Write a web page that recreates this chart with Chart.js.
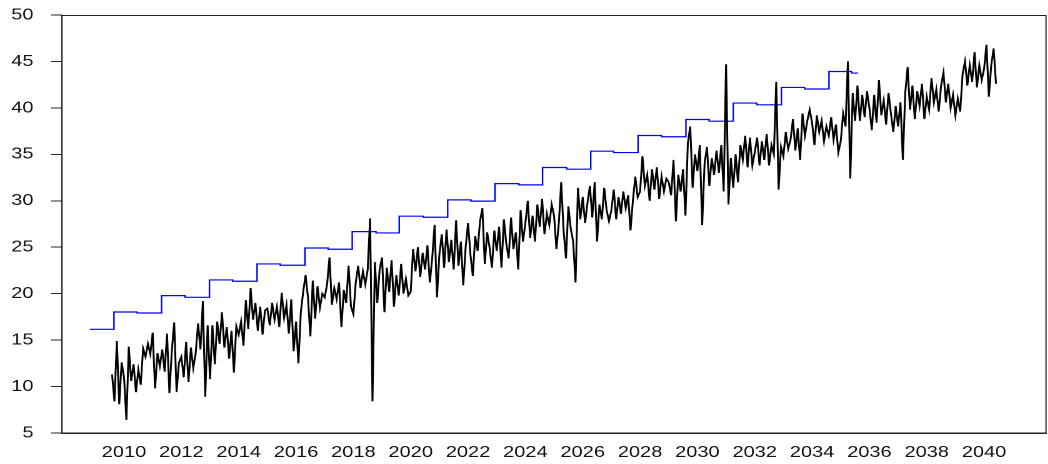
<!DOCTYPE html>
<html>
<head>
<meta charset="utf-8">
<script src="https://cdn.jsdelivr.net/npm/chart.js@4"></script>
<style>
  html, body { margin: 0; padding: 0; background: #fff; overflow: hidden; }
  /* the reference is drawn wider than tall, so the chart is laid out narrow and stretched */
  #wrap { width: 838.4px; height: 464px; transform: scaleX(1.25); transform-origin: 0 0; }
</style>
</head>
<body>
<div id="wrap"><canvas id="chart"></canvas></div>
<script>
// monthly series, first value is Aug 2009
const seriesStartYear = 2009;
const seriesStartMonth = 7;
const seriesValues = [
  11.3, 8.4, 14.9, 8.1, 12.6,
  11.0, 6.4, 14.3, 10.6, 12.4, 9.4, 11.8, 10.2, 14.1, 13.2, 14.6, 13.5,
  15.8, 9.8, 13.6, 12.2, 14.0, 11.6, 15.7, 9.3, 13.8, 16.9, 9.4, 12.6,
  13.2, 11.0, 14.8, 10.5, 14.2, 12.0, 13.6, 16.8, 14.0, 19.2, 8.9, 16.6,
  10.8, 16.6, 12.4, 17.0, 14.6, 18.0, 14.2, 16.4, 13.0, 16.0, 11.5, 16.5,
  15.6, 17.0, 14.4, 19.3, 16.2, 20.6, 17.2, 19.0, 16.0, 18.6, 15.6, 18.2,
  18.4, 16.6, 19.0, 17.2, 18.6, 16.4, 20.1, 17.4, 18.8, 15.7, 19.4, 13.8,
  17.0, 12.5, 18.0, 20.2, 22.0, 19.6, 15.4, 21.4, 17.3, 20.8, 18.5, 20.0,
  19.6, 21.0, 23.9, 18.8, 20.6, 19.4, 21.2, 16.4, 20.4, 19.0, 23.0, 18.6,
  17.8, 21.2, 23.0, 20.6, 22.4, 21.0, 22.6, 28.1, 8.4, 23.4, 19.0, 22.6,
  23.9, 18.0, 22.8, 20.2, 23.6, 18.6, 22.0, 19.8, 23.2, 20.0, 21.6, 19.8,
  20.2, 24.8, 22.4, 25.0, 21.8, 24.4, 22.6, 25.2, 21.2, 23.8, 27.4, 19.6,
  24.2, 26.4, 22.8, 26.9, 23.4, 25.8, 22.6, 27.9, 23.0, 25.6, 20.9, 25.0,
  27.6, 24.2, 21.9, 26.2, 24.6, 27.8, 29.2, 23.2, 26.6, 25.0, 22.8, 26.8,
  24.6, 27.2, 22.8, 28.0, 25.4, 23.8, 28.2, 24.8, 26.6, 22.6, 29.0, 25.6,
  27.6, 30.0, 26.0, 28.4, 25.6, 29.6, 27.2, 30.2, 26.4, 28.6, 27.4, 29.6,
  28.4, 24.8, 27.6, 32.0, 26.8, 23.8, 29.4, 27.0, 25.6, 21.2, 31.4, 28.0,
  30.4, 27.6, 29.8, 31.6, 28.2, 32.0, 25.6, 29.6, 28.0, 31.4, 29.0, 27.8,
  29.0, 31.2, 28.0, 30.4, 28.6, 31.0, 29.2, 30.6, 26.8, 30.0, 32.6, 30.4,
  31.0, 34.8, 31.6, 32.8, 30.0, 33.4, 31.2, 33.6, 30.2, 32.6, 31.0, 32.4,
  32.0, 30.6, 34.4, 27.8, 32.8, 31.0, 33.4, 28.4, 36.2, 38.0, 31.4, 35.0,
  33.2, 36.0, 27.4, 34.0, 35.8, 31.6, 34.6, 32.8, 35.4, 33.0, 36.0, 31.0,
  44.7, 29.6, 34.6, 31.4, 35.0, 32.0, 36.0, 34.4, 37.0, 33.6, 36.8, 33.8,
  35.2, 36.8, 33.8, 36.4, 34.4, 37.2, 33.8, 36.0, 35.0, 42.8, 31.2, 35.8,
  34.8, 37.4, 35.6, 36.6, 38.8, 35.4, 37.8, 34.4, 39.4, 37.0, 38.6, 39.8,
  38.4, 36.0, 39.2, 37.4, 38.6, 36.4, 38.0, 37.0, 39.0, 36.6, 38.2, 35.2,
  36.4, 39.4, 38.0, 45.0, 32.4, 41.6, 38.6, 42.4, 38.6, 41.4, 39.0, 41.8,
  40.0, 37.6, 41.4, 38.4, 43.0, 39.2, 40.8, 38.2, 41.6, 39.4, 37.4, 40.2,
  38.0, 40.6, 34.4, 41.6, 44.4, 39.8, 42.4, 38.8, 41.8, 40.2, 42.6, 38.8,
  41.2, 39.8, 43.2, 40.6, 42.0, 39.6, 42.4, 43.8, 40.6, 42.6, 40.0, 41.4,
  39.2, 41.0, 39.6, 43.6, 45.0, 42.4, 44.6, 42.8, 46.0, 42.2, 44.6, 43.0,
  44.2, 46.8, 41.2, 44.6, 46.4, 42.6
];

// blue step line: change dates (decimal years) and the level held after each one
const stepDates = [
  2008.81, 2009.65, 2010.46, 2011.31, 2012.13, 2012.98, 2013.79, 2014.64, 2015.45,
  2016.31, 2017.12, 2017.96, 2018.79, 2019.60, 2020.44, 2021.29, 2022.10, 2022.94,
  2023.77, 2024.60, 2025.44, 2026.28, 2027.08, 2027.93, 2028.75, 2029.60, 2030.41,
  2031.25, 2032.07, 2032.93, 2033.74, 2034.59, 2035.38, 2035.61
];
const stepLevels = [
  16.16, 18.03, 17.92, 19.79, 19.61, 21.48, 21.34, 23.20, 23.06, 24.92, 24.78,
  26.68, 26.54, 28.34, 28.23, 30.10, 29.96, 31.85, 31.71, 33.58, 33.40, 35.34,
  35.19, 37.03, 36.89, 38.75, 38.57, 40.52, 40.33, 42.20, 42.03, 43.92, 43.75
];

const xTickYears = [2010, 2012, 2014, 2016, 2018, 2020, 2022, 2024, 2026, 2028, 2030, 2032, 2034, 2036, 2038, 2040];
const yTickValues = [5, 10, 15, 20, 25, 30, 35, 40, 45, 50];

const seriesPoints = seriesValues.map((v, i) => ({
  x: seriesStartYear + (seriesStartMonth + i) / 12,
  y: v
}));
const stepPoints = stepDates.map((d, i) => ({
  x: d,
  y: stepLevels[Math.min(i, stepLevels.length - 1)]
}));

const framePlugin = {
  id: 'frame',
  afterDraw(chart) {
    const a = chart.chartArea;
    const ctx = chart.ctx;
    ctx.save();
    ctx.strokeStyle = '#222';
    ctx.lineWidth = 1;
    ctx.strokeRect(a.left, Math.round(a.top) + 0.5, a.right - a.left, Math.round(a.bottom - a.top));
    ctx.restore();
  }
};

const font = { family: '"Liberation Sans", Arial, sans-serif', size: 16 };

new Chart(document.getElementById('chart'), {
  type: 'line',
  data: {
    datasets: [
      {
        data: seriesPoints,
        borderColor: '#000',
        borderWidth: 1.5,
        pointRadius: 0,
        tension: 0,
        order: 0
      },
      {
        data: stepPoints,
        borderColor: '#0000ff',
        borderWidth: 1.2,
        pointRadius: 0,
        stepped: 'before',
        order: 1
      }
    ]
  },
  options: {
    responsive: true,
    maintainAspectRatio: false,
    animation: false,
    devicePixelRatio: 2,
    layout: { padding: { top: 15, right: 1.6, left: 0, bottom: 0 } },
    plugins: {
      legend: { display: false },
      tooltip: { enabled: false }
    },
    scales: {
      x: {
        type: 'linear',
        min: 2007.837,
        max: 2042.16,
        grid: { display: false, drawTicks: false },
        border: { display: true, color: '#222' },
        ticks: {
          font: font,
          color: '#111',
          padding: 10,
          maxRotation: 0,
          autoSkip: false,
          callback: v => String(v)
        },
        afterBuildTicks: s => { s.ticks = xTickYears.map(v => ({ value: v })); },
        afterFit: s => { s.height = 31; s.paddingLeft = 0; s.paddingRight = 0; }
      },
      y: {
        min: 5,
        max: 50,
        grid: { drawOnChartArea: false, drawTicks: true, tickLength: 8.8, color: '#222' },
        border: { display: true, color: '#222' },
        ticks: {
          font: font,
          color: '#111',
          padding: 14
        },
        afterBuildTicks: s => { s.ticks = yTickValues.map(v => ({ value: v })); },
        afterFit: s => { s.width = 49.6; s.paddingTop = 0; s.paddingBottom = 0; }
      }
    }
  },
  plugins: [framePlugin]
});
</script>
</body>
</html>
